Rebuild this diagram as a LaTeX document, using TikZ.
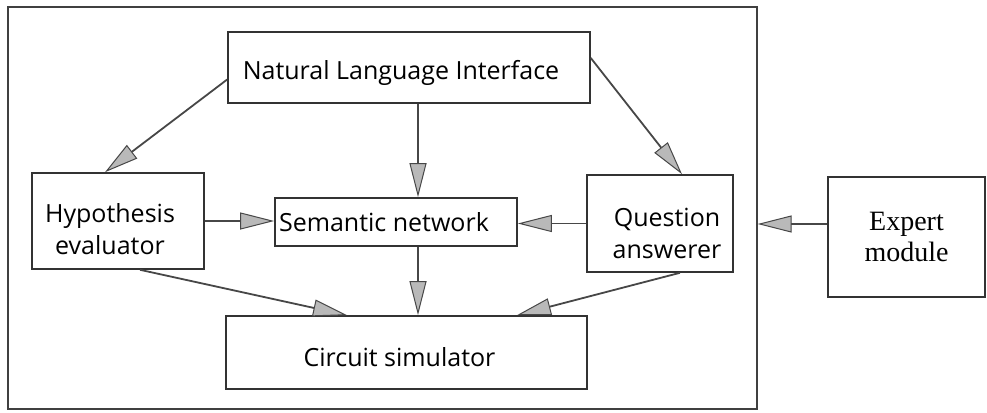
\documentclass[tikz,border=0pt]{standalone}
\usepackage{fontspec}
\setmainfont{Open Sans}
\newfontfamily\serifface{Liberation Serif}
\usetikzlibrary{arrows.meta}
% move a line of text by (#1 right, #2 down) without changing its box
\newcommand{\nudge}[3]{\raisebox{-#2}[\height][\depth]{\kern#1#3\kern-#1}}
\begin{document}
\begin{tikzpicture}[x=1pt,y=-1pt,
  box/.style={draw=black!80,line width=1.6pt,rectangle,inner sep=0pt,align=center,
    font=\fontsize{25}{32}\selectfont},
  frame/.style={draw=black!75,line width=1.3pt,rectangle,inner sep=0pt},
  arr/.style={draw=black!72,line width=1.8pt,
    -{Triangle[length=34pt,width=17pt,fill=gray!55,line width=1pt]}}]
  \useasboundingbox (0,0) rectangle (987,412);
  % outer system frame
  \node[frame,minimum width=749pt,minimum height=402pt] (sys) at (382.5,208) {};
  % components
  \node[box,minimum width=362pt,minimum height=71pt] (nli) at (409,67.5) {\nudge{-8pt}{5pt}{Natural Language Interface}};
  \node[box,minimum width=172pt,minimum height=96pt] (hyp) at (118,221) {\nudge{-8pt}{8pt}{Hypothesis}\\\nudge{-8pt}{8pt}{evaluator}};
  \node[box,minimum width=242pt,minimum height=48pt] (sn) at (396,222) {\nudge{-12pt}{0pt}{Semantic network}};
  \node[box,minimum width=146pt,minimum height=97pt] (qa) at (660,223.5) {\nudge{7pt}{10pt}{Question}\\\nudge{7pt}{10pt}{answerer}};
  \node[box,minimum width=361pt,minimum height=73pt] (cs) at (406.5,352.5) {\nudge{-7pt}{5pt}{Circuit simulator}};
  \node[box,minimum width=157pt,minimum height=120pt,font=\serifface\fontsize{28}{31}\selectfont] (em) at (906.5,237) {Expert\\module};
  % connectors
  \draw[arr] ([yshift=-12pt]nli.west) -- ([xshift=-13pt]hyp.north);
  \draw[arr] ([xshift=22pt]sn.north |- nli.south) -- ([xshift=22pt]sn.north);
  \draw[arr] ([yshift=9.5pt]nli.east) -- ([xshift=22pt]qa.north);
  \draw[arr] (hyp.east) -- (hyp.east -| sn.west);
  \draw[arr] (qa.west) -- (qa.west -| sn.east);
  \draw[arr] ([yshift=13pt]em.west) -- ([yshift=13pt]em.west -| sys.east);
  \draw[arr] ([xshift=22pt]sn.south) -- ([xshift=22pt]sn.south |- cs.north);
  \draw[arr] ([xshift=22pt]hyp.south) -- ([xshift=-59.5pt]cs.north);
  \draw[arr] ([xshift=20pt]qa.south) -- ([xshift=110.5pt]cs.north);
\end{tikzpicture}
\end{document}
